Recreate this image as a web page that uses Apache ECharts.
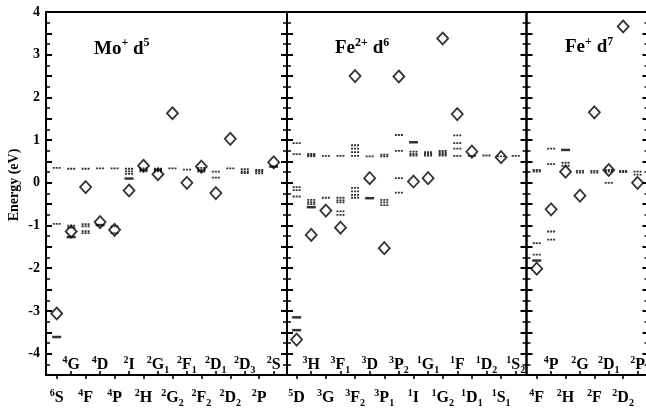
<!DOCTYPE html>
<html><head><meta charset="utf-8">
<script src="https://cdn.jsdelivr.net/npm/echarts@6/dist/echarts.min.js"></script>
<style>html,body{margin:0;padding:0;background:#fff}#c{width:646px;height:411px}</style>
</head><body><div id="c"></div>
<script>
// ---------- DATA ----------
// term labels: first char = superscript, second = letter, rest = subscript
const moTerms = ['6S','4G','4F','4D','4P','2I','2H','2G1','2G2','2F1','2F2','2D1','2D2','2D3','2P','2S'];
const moDiamonds = [[0,-3.06],[1,-1.14],[2,-0.10],[3,-0.92],[4,-1.10],[5,-0.18],[6,0.40],[7,0.20],[8,1.63],[9,0.0],[10,0.38],[11,-0.24],[12,1.03],[15,0.48]];
const moDotted = [[0,0.35],[0,-0.96],[1,0.33],[1,-1.0],[1,-1.05],[2,0.33],[2,-0.97],[2,-1.02],[2,-1.13],[2,-1.18],
  [3,0.34],[4,0.34],[4,-1.02],[4,-1.18],[5,0.33],[5,0.27],[5,0.21],[6,0.34],[6,0.30],[6,0.27],
  [7,0.33],[7,0.30],[7,0.27],[8,0.34],[9,0.31],[10,0.35],[10,0.30],[10,0.26],[11,0.26],[11,0.12],
  [12,0.34],[13,0.32],[13,0.27],[13,0.23],[14,0.30],[14,0.26],[14,0.22]];
const moSolid = [[0,-3.61],[1,-1.27],[3,-0.99],[5,0.10],[15,0.38]];

const fe2Terms = ['5D','3H','3G','3F1','3F2','3D','3P1','3P2','1I','1G1','1G2','1F','1D1','1D2','1S1','1S2'];
const fe2Diamonds = [[0,-3.67],[1,-1.22],[2,-0.65],[3,-1.05],[4,2.50],[5,0.11],[6,-1.53],[7,2.49],[8,0.03],[9,0.11],[10,3.38],[11,1.61],[12,0.73],[14,0.60]];
const fe2Dotted = [[0,0.93],[0,0.67],[0,-0.10],[0,-0.17],[0,-0.32],
  [1,0.68],[1,0.65],[1,0.62],[1,-0.40],[1,-0.45],[1,-0.50],
  [2,0.63],[2,-0.35],
  [3,0.63],[3,-0.35],[3,-0.41],[3,-0.46],[3,-0.67],[3,-0.75],
  [4,0.88],[4,0.80],[4,0.72],[4,0.63],[4,-0.12],[4,-0.20],[4,-0.28],[4,-0.35],
  [5,0.62],
  [6,0.66],[6,0.62],[6,-0.40],[6,-0.46],[6,-0.52],
  [7,1.12],[7,0.75],[7,0.11],[7,-0.23],
  [8,0.73],[8,0.68],[8,0.64],
  [9,0.72],[9,0.68],[9,0.64],
  [10,0.75],[10,0.71],[10,0.67],[10,0.64],
  [11,1.11],[11,0.93],[11,0.80],[11,0.63],
  [12,0.63],[13,0.64],[14,0.62],[15,0.63]];
const fe2Solid = [[0,-3.15],[0,-3.45],[1,-0.57],[5,-0.36],[8,0.95]];

const fe1Terms = ['4F','4P','2H','2G','2F','2D1','2D2','2P'];
const fe1Diamonds = [[0,-2.01],[1,-0.62],[2,0.26],[3,-0.30],[4,1.65],[5,0.30],[6,3.66],[7,0.0]];
const fe1Dotted = [[0,0.30],[0,0.26],[0,-1.41],[0,-1.68],[1,0.80],[1,0.44],[1,-1.14],[1,-1.33],
  [2,0.47],[2,0.40],[3,0.28],[3,0.24],[4,0.28],[4,0.24],[5,0.30],[5,0.26],[5,0.0],
  [6,0.28],[6,0.25],[7,0.26],[7,0.19]];
const fe1Solid = [[0,-1.82],[2,0.77]];

const yLabels = [-4,-3,-2,-1,0,1,2,3,4];

// ---------- STYLE / LAYOUT ----------
const serif = '"Liberation Serif","DejaVu Serif",serif';
const dotPath = 'path://M0,0h2v1h-2zM3,0h2v1h-2zM6,0h2v1h-2z';
function termLabel(t){
  let s = '{sup|' + t[0] + '}{b|' + t[1] + '}';
  if (t.length > 2) s += '{sub|' + t.slice(2) + '}';
  return s;
}
const labelRich = {
  b:{fontFamily:serif,fontWeight:'bold',fontSize:16,lineHeight:20,color:'#000'},
  sup:{fontFamily:serif,fontWeight:'bold',fontSize:10,lineHeight:8,verticalAlign:'top',color:'#000'},
  sub:{fontFamily:serif,fontWeight:'bold',fontSize:10,lineHeight:12,verticalAlign:'bottom',color:'#000'}
};
const panels = [
  {terms:moTerms, dia:moDiamonds, dot:moDotted, sol:moSolid, left:46, width:241, min:-0.74, max:15.92},
  {terms:fe2Terms, dia:fe2Diamonds, dot:fe2Dotted, sol:fe2Solid, left:287, width:239.5, min:-0.66, max:15.74},
  {terms:fe1Terms, dia:fe1Diamonds, dot:fe1Dotted, sol:fe1Solid, left:526.5, width:122, min:-0.71, max:7.76}
];

const grid = [], xAxis = [], yAxis = [], series = [];
panels.forEach((p, k) => {
  grid.push({left:p.left, top:12, width:p.width, height:363, show:true, borderColor:'#000', borderWidth:2,
    backgroundColor:'transparent', outerBoundsMode:'none', containLabel:false});
  ['left','right'].forEach(pos => {
    yAxis.push({type:'value', gridIndex:k, min:-4.5, max:4, interval:0.5, position:pos, z:5,
      axisLine:{show:false, onZero:false}, splitLine:{show:false},
      axisTick:{show:true, inside:true, length:6, lineStyle:{color:'#000', width:2}},
      minorTick:{show:true, splitNumber:2, length:4, lineStyle:{color:'#000', width:1.5}},
      axisLabel:(k === 0 && pos === 'left') ? {show:true, margin:6, color:'#000',
        fontFamily:serif, fontWeight:'bold', fontSize:14,
        formatter:v => (yLabels.indexOf(v) >= 0 ? String(v) : '')} : {show:false}});
  });
});
panels.forEach((p, k) => {
  const idx = p.terms.map((_, i) => i);
  const even = idx.filter(i => i % 2 === 0), odd = idx.filter(i => i % 2 === 1);
  const fmt = v => termLabel(p.terms[Math.round(v)]);
  xAxis.push({type:'value', gridIndex:k, min:p.min, max:p.max, position:'bottom', z:5,
    axisLine:{show:false, onZero:false}, splitLine:{show:false},
    axisTick:{show:true, inside:false, length:4, customValues:even, lineStyle:{color:'#000', width:1.6}},
    axisLabel:{show:true, customValues:even, margin:13, formatter:fmt, rich:labelRich}});
  xAxis.push({type:'value', gridIndex:k, min:p.min, max:p.max, position:'bottom', z:5,
    axisLine:{show:false, onZero:false}, splitLine:{show:false},
    axisTick:{show:true, inside:true, length:4, customValues:odd, lineStyle:{color:'#000', width:1.6}},
    axisLabel:{show:true, inside:true, customValues:odd, margin:0, formatter:fmt, rich:labelRich}});
  const xi = 2*k, yi = 2*k;
  series.push({type:'scatter', xAxisIndex:xi, yAxisIndex:yi, data:p.dot, symbol:dotPath, symbolSize:[8,1.8],
    itemStyle:{color:'#000'}, silent:true, z:2});
  series.push({type:'scatter', xAxisIndex:xi, yAxisIndex:yi, data:p.sol, symbol:'rect', symbolSize:[9,2.5],
    itemStyle:{color:'#000'}, silent:true, z:2});
  series.push({type:'scatter', xAxisIndex:xi, yAxisIndex:yi, data:p.dia, symbol:'diamond', symbolSize:[11,12],
    itemStyle:{color:'rgba(0,0,0,0)', borderColor:'#000', borderWidth:1.8}, silent:true, z:3});
});

const titleRich = {
  b:{fontFamily:serif,fontWeight:'bold',fontSize:19,lineHeight:24,fill:'#000',color:'#000'},
  sup:{fontFamily:serif,fontWeight:'bold',fontSize:12,lineHeight:12,verticalAlign:'top',fill:'#000',color:'#000'}
};
const titles = [
  {x:94, y:49, text:'{b|Mo}{sup|+}{b| d}{sup|5}'},
  {x:335, y:48.5, text:'{b|Fe}{sup|2+}{b| d}{sup|6}'},
  {x:565, y:47.5, text:'{b|Fe}{sup|+}{b| d}{sup|7}'}
];
const graphic = titles.map(t => ({type:'text', x:t.x, y:t.y, silent:true,
  style:{text:t.text, rich:titleRich, align:'left', verticalAlign:'middle', fill:'#000'}}));
graphic.push({type:'text', x:14, y:185, rotation:Math.PI/2, silent:true,
  style:{text:'Energy (eV)', font:'bold 14px ' + serif, fill:'#000', align:'center', verticalAlign:'middle'}});

const chart = echarts.init(document.getElementById('c'), null, {renderer:'canvas'});
chart.setOption({animation:false, backgroundColor:'#fff', grid, xAxis, yAxis, series, graphic});
</script></body></html>
